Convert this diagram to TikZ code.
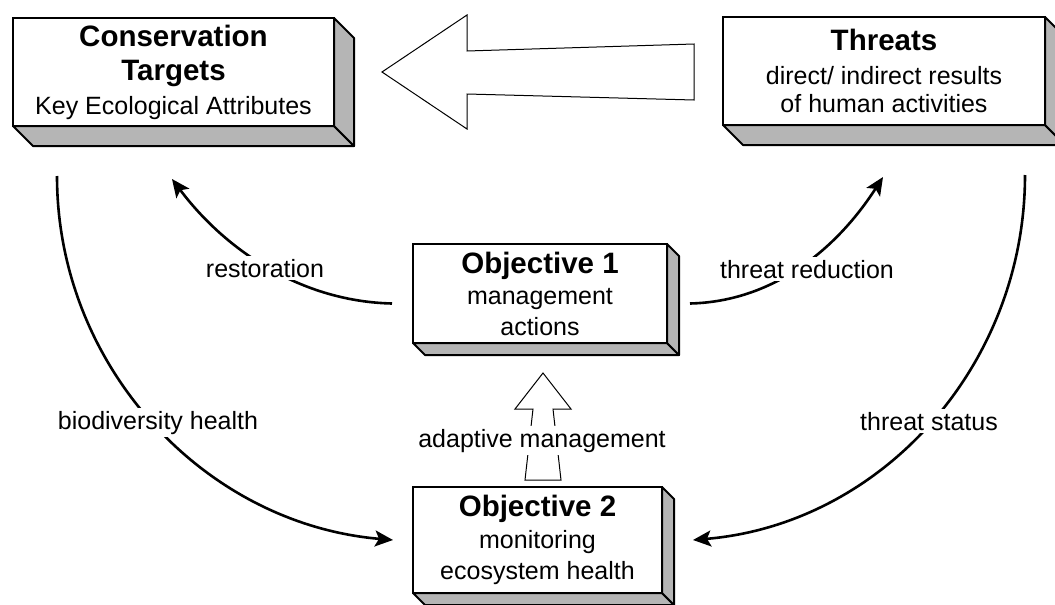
\documentclass[tikz,border=0pt]{standalone}
\usepackage{fontspec}
\setmainfont{Liberation Sans}
\usetikzlibrary{arrows.meta,backgrounds,calc}
\definecolor{sidegray}{gray}{0.71}
\newcommand\headline[1]{{\fontsize{29.5}{31}\selectfont\bfseries #1}}
% shaded bottom and right faces behind a front panel (node name, depth)
\newcommand\boxsides[2]{%
  \begin{scope}[on background layer]
    \draw[sideface] (#1.south west) -- (#1.south east) -- ($(#1.south east)+(#2,#2)$) -- ($(#1.south west)+(#2,#2)$) -- cycle;
    \draw[sideface] (#1.north east) -- ($(#1.north east)+(#2,#2)$) -- ($(#1.south east)+(#2,#2)$) -- (#1.south east) -- cycle;
  \end{scope}}
\tikzset{
  front/.style={draw, line width=2pt, fill=white, outer sep=0pt, inner sep=0pt,
    align=center, font=\fontsize{25}{31}\selectfont},
  sideface/.style={fill=sidegray, draw=black, line width=2pt, line join=round},
  flow/.style={line width=2.6pt, -{Stealth[length=18pt,width=16pt,inset=4pt]}},
  tag/.style={fill=white, inner sep=3pt, anchor=base, font=\fontsize{25}{30}\selectfont},
  hollow/.style={draw=black, line width=1pt, fill=white, line join=miter},
}
\begin{document}
\begin{tikzpicture}[x=1pt, y=-1pt]
\useasboundingbox (0,0) rectangle (1055,605);

% panels
\node[front, minimum width=321, minimum height=108] (ct) at (173.5,72)
  {\headline{Conservation}\\[3pt]\headline{Targets}\\[3pt]Key Ecological Attributes};
\node[front, minimum width=322, minimum height=108] (th) at (884,71)
  {\headline{Threats}\\[3pt]direct/ indirect results\\[-3pt]of human activities};
\node[front, minimum width=254, minimum height=99] (obj1) at (540,293.5)
  {\headline{Objective 1}\\management\\actions};
\node[front, minimum width=249, minimum height=106] (obj2) at (537.5,540)
  {\headline{Objective 2}\\[1pt]monitoring\\ecosystem health};
\boxsides{ct}{20}
\boxsides{th}{20}
\boxsides{obj1}{12}
\boxsides{obj2}{12}

% wide hollow arrow from threats to targets
\draw[hollow] ($(ct.east)+(48,0)$) -- ++(85,-57) -- ++(0,36) -- ++(227,-7)
  -- ++(0,56) -- ++(-227,-6) -- ++(0,35) -- cycle;

% hollow arrow from monitoring up to management
\draw[hollow] ($(obj1.south)+(3,30)$) -- ++(28,36) -- ++(-18,0) -- ++(8,71)
  -- ++(-36,0) -- ++(8,-71) -- ++(-18,0) -- cycle;

% curved connectors
\coordinate (bioStart) at ($(ct.south west)+(44,50)$);
\coordinate (bioEnd) at ($(obj2.west)+(-20,0)$);
\coordinate (statStart) at ($(th.south east)+(-20,50)$);
\coordinate (statEnd) at ($(obj2.east)+(31,0)$);
\coordinate (restStart) at ($(obj1.west)+(-21,10)$);
\coordinate (restEnd) at ($(ct.south west)+(159,53)$);
\coordinate (redStart) at ($(obj1.east)+(23,10)$);
\coordinate (redEnd) at ($(th.south west)+(160,52)$);

\draw[flow] (bioStart) .. controls +(0,190) and +(-189,-16) .. (bioEnd);
\draw[flow] (statStart) .. controls +(0,190) and +(189,-16) .. (statEnd);
\draw[flow] (restStart) .. controls +(-90,-2) and +(54,72) .. (restEnd);
\draw[flow] (redStart) .. controls +(85,-2) and +(-45,70) .. (redEnd);

% labels
\node[tag] (lrest) at (265,277) {restoration};
\node[tag] (lred) at (807,278) {threat reduction};
\node[tag] (lbio) at (158,429) {biodiversity health};
\node[tag] (lstat) at (929,430) {threat status};
\node[tag] (ladapt) at (542,447) {adaptive management};
\end{tikzpicture}
\end{document}
